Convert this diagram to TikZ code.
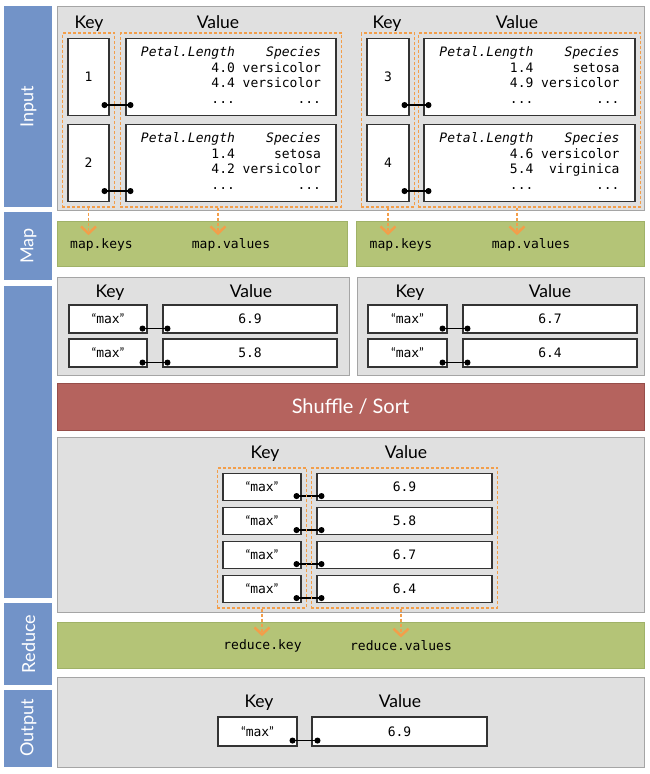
\documentclass[tikz,border=0pt]{standalone}
\usepackage{fontspec}
\setmainfont{Lato}
\setmonofont{DejaVu Sans Mono}[ItalicFont={DejaVu Sans Mono Oblique}]
\usetikzlibrary{arrows.meta,fit}
\definecolor{stageblue}{RGB}{114,147,200}
\definecolor{panelgray}{RGB}{224,224,224}
\definecolor{panelline}{RGB}{165,165,165}
\definecolor{mapgreen}{RGB}{180,196,119}
\definecolor{mapline}{RGB}{160,178,104}
\definecolor{sortred}{RGB}{181,99,94}
\definecolor{sortline}{RGB}{150,78,74}
\definecolor{floworange}{RGB}{243,158,74}
\newcommand{\mx}{{\rmfamily“}max{\rmfamily”}}
\begin{document}
\begin{tikzpicture}[x=1pt,y=-1pt,
  stage/.style={fill=stageblue},
  stagelabel/.style={rotate=90,text=white,font=\fontsize{18}{20}\selectfont},
  panel/.style={fill=panelgray,draw=panelline,line width=0.9pt},
  mapbar/.style={fill=mapgreen,draw=mapline,line width=0.9pt},
  sortbar/.style={fill=sortred,draw=sortline,line width=0.9pt,text=white,minimum width=587,minimum height=47,font=\fontsize{20}{22}\selectfont},
  head/.style={anchor=base,font=\fontsize{17.5}{20}\selectfont},
  code/.style={font=\ttfamily\fontsize{13}{15.5}\selectfont},
  kbox/.style 2 args={draw=black!80,fill=white,line width=1.1pt,inner sep=0pt,minimum width=#1,minimum height=#2,font=\ttfamily\fontsize{13}{15.5}\selectfont},
  vbox/.style 2 args={kbox={#1}{#2}},
  keygroup/.style={draw=floworange,dash pattern=on 3pt off 2pt,line width=1.2pt,inner sep=5pt},
  flow/.style={draw=floworange,dash pattern=on 3pt off 2pt,line width=1.2pt,-{Straight Barb[length=7pt,width=15pt,line width=2.5pt]}},
  link/.style={line width=1.3pt,{Circle[length=6pt]}-{Circle[length=6pt]},shorten <=-3pt,shorten >=-3pt}]
\useasboundingbox (0,0) rectangle (650,774);

% stage bars
\fill[stage] (4,6) rectangle (52,207);
\fill[stage] (4,212) rectangle (52,280);
\fill[stage] (4,286) rectangle (52,598);
\fill[stage] (4,603) rectangle (52,685);
\fill[stage] (4,690) rectangle (52,767);
\node[stagelabel] (sin) at (28.5,106.5) {Input};
\node[stagelabel] (smap) at (28.5,246) {Map};
\node[stagelabel] (sred) at (28.5,644) {Reduce};
\node[stagelabel] (sout) at (28.5,728) {Output};

% input
\draw[panel] (57,6) rectangle (644,210);
\node[head] (kh1) at (89,28) {Key};
\node[head] (vh1) at (218,28) {Value};
\node[head] (kh2) at (387,28) {Key};
\node[head] (vh2) at (517,28) {Value};
\node[kbox={41}{77}] (k1) at (88.5,77) {1};
\node[kbox={41}{77}] (k2) at (88.5,163) {2};
\node[kbox={42}{77}] (k3) at (388,77) {3};
\node[kbox={42}{77}] (k4) at (388,163) {4};
\node[vbox={210}{77}] (v1) at (231,77) {\begin{tabular}{@{}r@{\ }r@{}}
  \textit{Petal.Length} & \textit{Species}\\ 4.0 & versicolor\\ 4.4 & versicolor\\ ... & ...\end{tabular}};
\node[vbox={210}{77}] (v2) at (231,163) {\begin{tabular}{@{}r@{\ }r@{}}
  \textit{Petal.Length} & \textit{Species}\\ 1.4 & setosa\\ 4.2 & versicolor\\ ... & ...\end{tabular}};
\node[vbox={211}{77}] (v3) at (529.5,77) {\begin{tabular}{@{}r@{\ }r@{}}
  \textit{Petal.Length} & \textit{Species}\\ 1.4 & setosa\\ 4.9 & versicolor\\ ... & ...\end{tabular}};
\node[vbox={211}{77}] (v4) at (529.5,163) {\begin{tabular}{@{}r@{\ }r@{}}
  \textit{Petal.Length} & \textit{Species}\\ 4.6 & versicolor\\ 5.4 & virginica\\ ... & ...\end{tabular}};
\node[keygroup,fit=(k1)(k2)] (kg1) {};
\node[keygroup,fit=(v1)(v2)] (vg1) {};
\node[keygroup,fit=(k3)(k4)] (kg2) {};
\node[keygroup,fit=(v3)(v4)] (vg2) {};
\draw[link] ([shift={(-5pt,11pt)}]k1.south east) -- ([shift={(5pt,11pt)}]v1.south west);
\draw[link] ([shift={(-5pt,11pt)}]k2.south east) -- ([shift={(5pt,11pt)}]v2.south west);
\draw[link] ([shift={(-5pt,11pt)}]k3.south east) -- ([shift={(5pt,11pt)}]v3.south west);
\draw[link] ([shift={(-5pt,11pt)}]k4.south east) -- ([shift={(5pt,11pt)}]v4.south west);

% map
\draw[mapbar] (57,221) rectangle (347,266);
\draw[mapbar] (356,221) rectangle (644,266);
\node[code] (mk1) at (101.5,245) {map.keys};
\node[code] (mv1) at (231,245) {map.values};
\node[code] (mk2) at (401,245) {map.keys};
\node[code] (mv2) at (531,245) {map.values};
\draw[flow] (kg1.south) -- (kg1.south |- mk1.north);
\draw[flow] (vg1.south -| vh1) -- (vh1 |- mv1.north);
\draw[flow] (kg2.south) -- (kg2.south |- mk2.north);
\draw[flow] (vg2.south -| vh2) -- (vh2 |- mv2.north);

\draw[panel] (57,277) rectangle (349,375);
\draw[panel] (357,277) rectangle (644,375);
\node[head] (kh3) at (110,297) {Key};
\node[head] (vh3) at (251,297) {Value};
\node[head] (kh4) at (410,297) {Key};
\node[head] (vh4) at (550,297) {Value};
\node[kbox={78}{28}] (k5) at (108,319) {\mx};
\node[kbox={78}{28}] (k6) at (108,353) {\mx};
\node[vbox={174}{28}] (v5) at (250,319) {6.9};
\node[vbox={174}{28}] (v6) at (250,353) {5.8};
\node[kbox={79}{28}] (k7) at (407.5,319) {\mx};
\node[kbox={79}{28}] (k8) at (407.5,353) {\mx};
\node[vbox={174}{28}] (v7) at (550,319) {6.7};
\node[vbox={174}{28}] (v8) at (550,353) {6.4};
\draw[link] ([shift={(-5pt,5pt)}]k5.south east) -- ([shift={(5pt,5pt)}]v5.south west);
\draw[link] ([shift={(-5pt,5pt)}]k6.south east) -- ([shift={(5pt,5pt)}]v6.south west);
\draw[link] ([shift={(-5pt,5pt)}]k7.south east) -- ([shift={(5pt,5pt)}]v7.south west);
\draw[link] ([shift={(-5pt,5pt)}]k8.south east) -- ([shift={(5pt,5pt)}]v8.south west);

% shuffle / sort
\node[sortbar] (sort) at (350.5,406.5) {Shuffle / Sort};
\draw[panel] (57,437) rectangle (644,612);
\node[head] (kh5) at (265,458) {Key};
\node[head] (vh5) at (406,458) {Value};
\foreach \v [count=\n] in {6.9,5.8,6.7,6.4} {
  \node[kbox={78}{27}] (sk\n) at (262,453+34*\n) {\mx};
  \node[vbox={175}{27}] (sv\n) at (404.5,453+34*\n) {\v};
  \draw[link] ([shift={(-5pt,5pt)}]sk\n.south east) -- ([shift={(5pt,5pt)}]sv\n.south west);
}
\node[keygroup,fit=(sk1)(sk4)] (skg) {};
\node[keygroup,fit=(sv1)(sv4)] (svg) {};

% reduce
\draw[mapbar] (57,622) rectangle (644,668);
\node[code] (rk) at (262.5,646) {reduce.key};
\node[code] (rv) at (401,646) {reduce.values};
\draw[flow] (skg.south) -- (skg.south |- rk.north);
\draw[flow] (svg.south -| rv) -- (rv.north);

% output
\draw[panel] (57,677) rectangle (644,767);
\node[head] (kh6) at (259,707) {Key};
\node[head] (vh6) at (400,707) {Value};
\node[kbox={79}{29}] (ok) at (257.5,731.5) {\mx};
\node[vbox={175}{29}] (ov) at (399.5,731.5) {6.9};
\draw[link] ([shift={(-5pt,6pt)}]ok.south east) -- ([shift={(6pt,6pt)}]ov.south west);
\end{tikzpicture}
\end{document}
